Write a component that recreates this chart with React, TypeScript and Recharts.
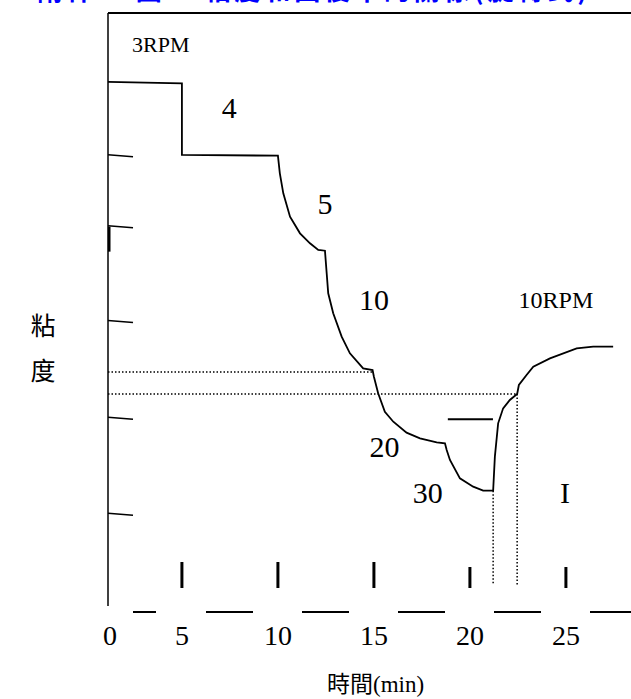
import React from 'react';
import { LineChart, Line, XAxis, YAxis, ReferenceLine, ReferenceDot, Label } from 'recharts';

const SERIF = '"Liberation Serif", "Times New Roman", serif';
const CJK = '"Noto Sans CJK TC", "Noto Sans CJK SC", sans-serif';

const X0 = 1.15;
const X_MAX = 28.39;
const Y_MAX = 60;

const times = [X0, 5, 5, 10, 10.1, 10.28, 10.63, 11.15, 11.67, 12.1, 12.45, 12.54, 12.62, 12.88, 13.32, 13.75, 14.44, 14.93, 15.0, 15.22, 15.57, 16.01, 16.7, 17.4, 18.27, 18.7, 18.79, 18.96, 19.48, 20.17, 20.69, 21.21, 21.3, 21.47, 21.73, 22.08, 22.46, 22.55, 22.95, 23.3, 24.17, 25.56, 26.42, 27.46];
const viscosity = [53.1, 52.96, 45.78, 45.71, 43.94, 41.94, 39.6, 37.93, 36.93, 36.26, 36.19, 33.93, 31.93, 29.92, 27.58, 25.91, 24.41, 24.24, 23.57, 21.91, 20.06, 19.06, 17.96, 17.4, 17.0, 16.9, 16.23, 15.23, 13.39, 12.55, 12.15, 12.15, 15.56, 18.9, 20.4, 21.24, 21.84, 22.74, 23.74, 24.57, 25.41, 26.41, 26.58, 26.58];

const xTickValues = [X0, 5, 10, 15, 20, 25];
const xTickLabels = ['0', '5', '10', '15', '20', '25'];
const yTickValues = [9.8, 19.4, 29.1, 38.6, 45.7];

const dottedH = [
  { y: 24.04, x1: X0, x2: 14.95 },
  { y: 21.84, x1: X0, x2: 22.46 },
];
const dottedV = [
  { x: 21.21, y1: 12.15, y2: 2.7 },
  { x: 22.46, y1: 21.84, y2: 2.6 },
];
const annotations = [
  { text: '3RPM', x: 3.9, y: 56.1, size: 22 },
  { text: '4', x: 7.47, y: 49.5, size: 30 },
  { text: '5', x: 12.45, y: 39.87, size: 30 },
  { text: '10', x: 15.0, y: 30.25, size: 30 },
  { text: '10RPM', x: 24.48, y: 30.45, size: 24 },
  { text: '20', x: 15.55, y: 15.53, size: 30 },
  { text: '30', x: 17.81, y: 10.92, size: 30 },
  { text: 'I', x: 24.95, y: 10.92, size: 30 },
];

const TITLE = '附件 3 圖 3   粘度和回復率的關係(旋轉式)';

const data = times.map((t, i) => ({ t, v: viscosity[i] }));

const XTick = (props: any) => {
  const { x, y, payload, index } = props;
  const v = payload.value;
  return (
    <g>
      {v >= 5 && (
        <line x1={x} x2={x} y1={y - (v >= 20 ? 45 : 50)} y2={y - 24} stroke="#000" strokeWidth={3} />
      )}
      <text x={x + (index === 0 ? 2 : 0)} y={y + 33} textAnchor="middle" fontFamily={SERIF} fontSize={28} fill="#000">
        {xTickLabels[index] ?? String(v)}
      </text>
    </g>
  );
};

const YTick = (props: any) => {
  const { x, y, index } = props;
  return (
    <g>
      <line x1={x} x2={x + 25} y1={y - 1} y2={y + 1} stroke="#000" strokeWidth={1.5} />
      {index === 3 && <rect x={x} y={y} width={2.5} height={25} fill="#000" />}
    </g>
  );
};

const AnnoLabel = (text: string, size: number) => (props: any) => {
  const { viewBox } = props;
  const cx = viewBox.x + (viewBox.width || 0) / 2;
  const cy = viewBox.y + (viewBox.height || 0) / 2;
  return (
    <text x={cx} y={cy} textAnchor="middle" fontFamily={SERIF} fontSize={size} fill="#000">
      {text}
    </text>
  );
};

const YAxisTitle = (props: any) => {
  return (
    <g fontFamily={CJK} fontSize={25} fill="#000">
      <text x={43} y={335} textAnchor="middle">粘</text>
      <text x={43} y={380} textAnchor="middle">度</text>
    </g>
  );
};

const XAxisTitle = (props: any) => {
  return (
    <text x={327} y={692} fill="#000">
      <tspan fontFamily={CJK} fontSize={23}>時間</tspan>
      <tspan fontFamily={SERIF} fontSize={23}>(min)</tspan>
    </text>
  );
};

export default function App() {
  return (
    <div style={{ position: 'absolute', left: 0, top: 0, width: 631, height: 699, background: '#fff' }}>
      <LineChart
        width={631}
        height={699}
        data={data}
        margin={{ top: 13, right: 0, bottom: 0, left: 0 }}
      >
        <XAxis
          dataKey="t"
          type="number"
          domain={[X0, X_MAX]}
          ticks={xTickValues}
          interval={0}
          allowDataOverflow
          height={87}
          tickLine={false}
          tickSize={0}
          tickMargin={0}
          tick={<XTick />}
          axisLine={{ stroke: '#000', strokeWidth: 2, strokeDasharray: '0 25 23 50 47 49 47 49 47 49 47 49 47 49 47 49' }}
        >
          <Label content={<XAxisTitle />} />
        </XAxis>
        <YAxis
          type="number"
          domain={[0, Y_MAX]}
          ticks={yTickValues}
          interval={0}
          allowDataOverflow
          width={108}
          tickLine={false}
          tickSize={0}
          tickMargin={0}
          tick={<YTick />}
          axisLine={false}
        >
          <Label content={<YAxisTitle />} />
        </YAxis>
        <ReferenceLine y={Y_MAX} stroke="#000" strokeWidth={2} />
        <ReferenceLine segment={[{ x: X0, y: Y_MAX }, { x: X0, y: 0.6 }]} stroke="#000" strokeWidth={1.5} />
        {dottedH.map((d, i) => (
          <ReferenceLine key={'h' + i} segment={[{ x: d.x1, y: d.y }, { x: d.x2, y: d.y }]} stroke="#000" strokeWidth={1.5} strokeDasharray="1.5 2" />
        ))}
        {dottedV.map((d, i) => (
          <ReferenceLine key={'v' + i} segment={[{ x: d.x, y: d.y1 }, { x: d.x, y: d.y2 }]} stroke="#000" strokeWidth={1.5} strokeDasharray="1.5 2" />
        ))}
        <ReferenceLine segment={[{ x: 18.85, y: 19.3 }, { x: 21.2, y: 19.3 }]} stroke="#000" strokeWidth={2} />
        <Line
          type="linear"
          dataKey="v"
          stroke="#000"
          strokeWidth={1.8}
          dot={false}
          isAnimationActive={false}
        />
        {annotations.map((a, i) => (
          <ReferenceDot key={'a' + i} x={a.x} y={a.y} r={0} fill="none" stroke="none" label={AnnoLabel(a.text, a.size)} />
        ))}
      </LineChart>
      <svg width={631} height={20} style={{ position: 'absolute', left: 0, top: 0 }}>
        <text x={37} y={0} fontFamily={CJK} fontSize={26} fontWeight="bold" fill="#0000ff" textLength={550}>
          {TITLE}
        </text>
      </svg>
    </div>
  );
}
